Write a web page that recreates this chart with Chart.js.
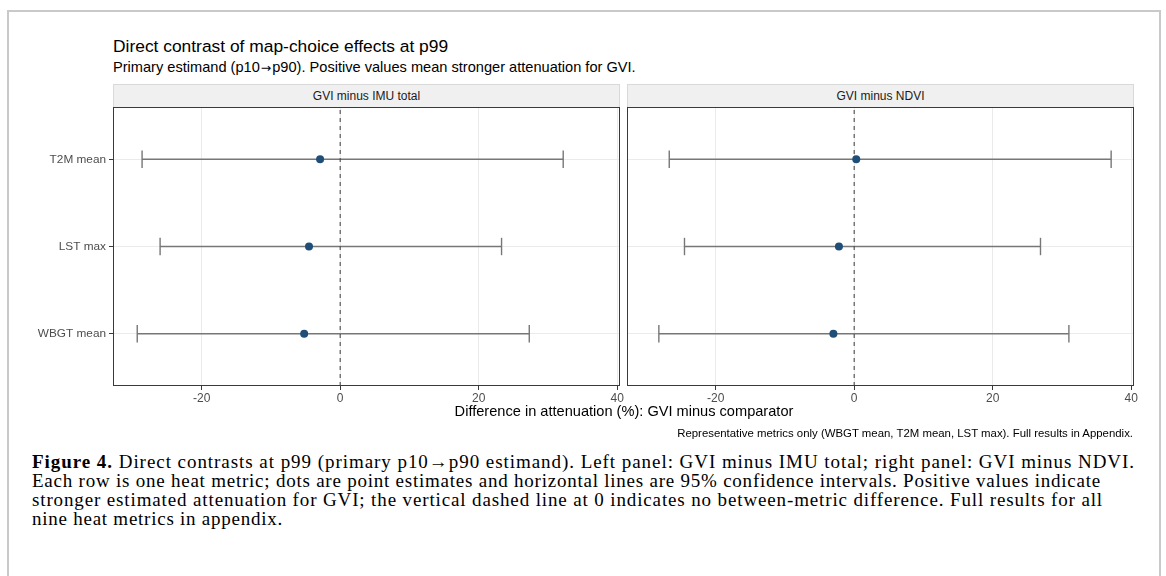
<!DOCTYPE html>
<html lang="en">
<head>
  <meta charset="UTF-8" />
  <title>Direct contrast of map-choice effects at p99</title>
  <script src="https://cdn.jsdelivr.net/npm/chart.js"></script>
  <style>
    body { margin: 0; background: #fff; width: 1166px; height: 576px; overflow: hidden; position: relative; font-family: "Liberation Sans", Arial, sans-serif; }
    .abs { position: absolute; white-space: nowrap; }
    .frame { left: 7px; top: 10px; width: 1150px; height: 620px; border: 2px solid #c9c9c9; }
    .title { left: 113px; top: 36px; font-size: 17.4px; color: #000; }
    .subtitle { left: 113px; top: 59px; font-size: 14.6px; color: #000; }
    .arrow { font-family: "DejaVu Sans", sans-serif; font-size: 0.85em; padding: 0 1px; }
    .strip { top: 84px; width: 505px; height: 22px; background: #f0f0f0; border: 1px solid #d9d9d9; border-bottom: none;
             font-size: 12px; color: #1a1a1a; text-align: center; line-height: 22px; }
    .xtitle { left: 324px; width: 600px; top: 403px; font-size: 14.6px; text-align: center; color: #000; }
    .note { right: 33px; top: 427px; font-size: 11.4px; color: #000; }
    .caption { left: 32px; font-family: "Liberation Serif", serif; font-size: 19px; color: #000; }
    canvas { position: absolute; }
  </style>
</head>
<body>
  <div class="abs frame"></div>
  <div class="abs title">Direct contrast of map-choice effects at p99</div>
  <div class="abs subtitle">Primary estimand (p10<span class="arrow">→</span>p90). Positive values mean stronger attenuation for GVI.</div>
  <div class="abs strip" style="left:113px">GVI minus IMU total</div>
  <div class="abs strip" style="left:627px">GVI minus NDVI</div>

  <canvas id="left" width="626" height="307" style="left:0px;top:105px"></canvas>
  <canvas id="right" width="540" height="307" style="left:622px;top:105px"></canvas>

  <div class="abs xtitle">Difference in attenuation (%): GVI minus comparator</div>
  <div class="abs note">Representative metrics only (WBGT mean, T2M mean, LST max). Full results in Appendix.</div>

  <div class="abs caption fit" data-w="1103" style="top:451px"><b>Figure 4.</b> Direct contrasts at p99 (primary p10→p90 estimand). Left panel: GVI minus IMU total; right panel: GVI minus NDVI.</div>
  <div class="abs caption fit" data-w="1069" style="top:470px">Each row is one heat metric; dots are point estimates and horizontal lines are 95% confidence intervals. Positive values indicate</div>
  <div class="abs caption fit" data-w="1071" style="top:489px">stronger estimated attenuation for GVI; the vertical dashed line at 0 indicates no between-metric difference. Full results for all</div>
  <div class="abs caption fit" data-w="251" style="top:508px">nine heat metrics in appendix.</div>

  <script>
    // rows from top to bottom
    const metrics = ['T2M mean', 'LST max', 'WBGT mean'];
    const xTicks = [-20, 0, 20, 40];

    // GVI minus IMU total
    const imuEst  = [-2.9, -4.5, -5.2];
    const imuLow  = [-28.6, -26.0, -29.3];
    const imuHigh = [32.2, 23.3, 27.3];

    // GVI minus NDVI
    const ndviEst  = [0.3, -2.2, -3.0];
    const ndviLow  = [-26.7, -24.5, -28.2];
    const ndviHigh = [37.1, 26.9, 31.0];

    const xMin = -32.8, xMax = 40.4;
    const rowY = i => metrics.length - i;   // first metric sits at the top

    // caption lines: stretch letter spacing so each line ends where the printed one does
    document.querySelectorAll('.fit').forEach(el => {
      const w = el.getBoundingClientRect().width;
      const n = el.textContent.length;
      el.style.letterSpacing = ((+el.dataset.w - w) / n).toFixed(3) + 'px';
    });

    const panelBorder = {
      id: 'panelBorder',
      afterDraw(chart) {
        const a = chart.chartArea, ctx = chart.ctx;
        ctx.save();
        ctx.strokeStyle = '#3a3a3a';
        ctx.lineWidth = 1;
        ctx.strokeRect(Math.round(a.left) + 0.5, Math.round(a.top) + 0.5,
                       Math.round(a.right - a.left) - 1, Math.round(a.bottom - a.top) - 1);
        ctx.restore();
      }
    };

    function panel(id, est, low, high, showLabels, padLeft, padRight) {
      const datasets = [];
      datasets.push({
        label: 'estimate',
        data: est.map((v, i) => ({ x: v, y: rowY(i) })),
        pointRadius: 4,
        pointBackgroundColor: '#1f4e79',
        pointBorderWidth: 0,
        order: 0
      });
      datasets.push({
        label: 'zero',
        data: [{ x: 0, y: 0.4 }, { x: 0, y: 3.6 }],
        showLine: true,
        borderColor: '#4a4a4a',
        borderWidth: 1.1,
        borderDash: [4, 4],
        pointRadius: 0,
        order: 1
      });
      metrics.forEach((m, i) => {
        datasets.push({
          label: m,
          data: [{ x: low[i], y: rowY(i) }, { x: high[i], y: rowY(i) }],
          showLine: true,
          borderColor: '#777777',
          borderWidth: 1.4,
          pointStyle: 'line',
          rotation: 90,
          pointRadius: 8.7,
          pointBorderColor: '#777777',
          pointBorderWidth: 1.4,
          order: 2
        });
      });

      new Chart(document.getElementById(id), {
        type: 'scatter',
        data: { datasets },
        plugins: [panelBorder],
        options: {
          responsive: false,
          animation: false,
          devicePixelRatio: 1,
          events: [],
          layout: { autoPadding: false, padding: { top: 2, left: padLeft, right: padRight, bottom: 0 } },
          plugins: { legend: { display: false }, tooltip: { enabled: false } },
          scales: {
            x: {
              type: 'linear',
              min: xMin,
              max: xMax,
              afterBuildTicks: s => { s.ticks = xTicks.map(v => ({ value: v })); },
              afterFit: s => { s.height = 26; s.paddingLeft = 0; s.paddingRight = 0; },
              border: { display: false },
              grid: { color: '#ebebeb', lineWidth: 1, tickColor: '#3a3a3a', tickLength: 4 },
              ticks: { color: '#4d4d4d', padding: 1, maxRotation: 0, font: { family: 'Liberation Sans', size: 12 } }
            },
            y: {
              type: 'linear',
              min: 0.4,
              max: 3.6,
              afterBuildTicks: s => { s.ticks = metrics.map((m, i) => ({ value: rowY(i) })); },
              afterFit: s => { s.width = showLabels ? 113 : 0; s.paddingTop = 0; s.paddingBottom = 0; },
              border: { display: false },
              grid: { color: '#ebebeb', lineWidth: 1, tickColor: '#3a3a3a', tickLength: 4, drawTicks: showLabels },
              ticks: {
                display: showLabels,
                color: '#4d4d4d',
                padding: 3,
                font: { family: 'Liberation Sans', size: 11.8 },
                callback: v => metrics[metrics.length - v]
              }
            }
          }
        }
      });
    }

    panel('left', imuEst, imuLow, imuHigh, true, 0, 6);
    panel('right', ndviEst, ndviLow, ndviHigh, false, 5, 28);
  </script>
</body>
</html>
